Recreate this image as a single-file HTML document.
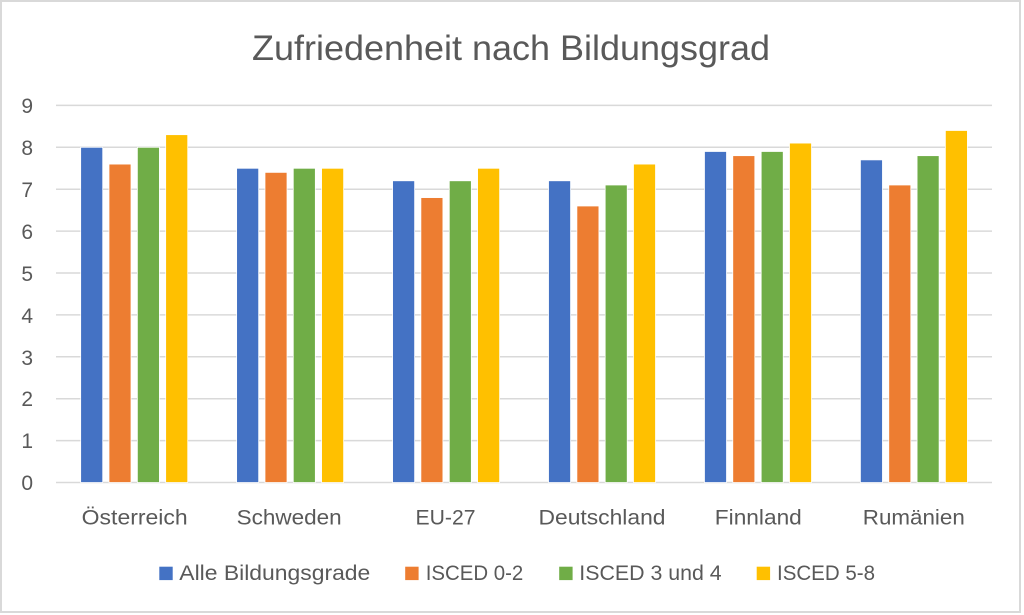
<!DOCTYPE html>
<html><head><meta charset="utf-8"><style>
html,body{margin:0;padding:0;background:#fff;}
svg{display:block;}
text{font-family:"Liberation Sans",sans-serif;fill:#595959;}
</style></head><body>
<svg width="1024" height="615" viewBox="0 0 1024 615" xmlns="http://www.w3.org/2000/svg">
<rect x="0" y="0" width="1024" height="615" fill="#fff"/>
<rect x="1" y="1" width="1019" height="611" fill="#fff" stroke="#d9d9d9" stroke-width="2"/>
<text x="511" y="60" font-size="35" text-anchor="middle" textLength="518" lengthAdjust="spacingAndGlyphs">Zufriedenheit nach Bildungsgrad</text>
<g stroke="#d9d9d9" stroke-width="1.5">
<line x1="56" x2="992" y1="105.4" y2="105.4"/>
<line x1="56" x2="992" y1="147.3" y2="147.3"/>
<line x1="56" x2="992" y1="189.2" y2="189.2"/>
<line x1="56" x2="992" y1="231.1" y2="231.1"/>
<line x1="56" x2="992" y1="273.0" y2="273.0"/>
<line x1="56" x2="992" y1="314.9" y2="314.9"/>
<line x1="56" x2="992" y1="356.8" y2="356.8"/>
<line x1="56" x2="992" y1="398.7" y2="398.7"/>
<line x1="56" x2="992" y1="440.6" y2="440.6"/>
<line x1="56" x2="992" y1="482.5" y2="482.5"/>
</g>
<g font-size="21" text-anchor="end">
<text x="33" y="113">9</text>
<text x="33" y="155">8</text>
<text x="33" y="197">7</text>
<text x="33" y="239">6</text>
<text x="33" y="281">5</text>
<text x="33" y="323">4</text>
<text x="33" y="365">3</text>
<text x="33" y="406">2</text>
<text x="33" y="448">1</text>
<text x="33" y="490">0</text>
</g>
<g stroke="#fff" stroke-width="0.75">
<!-- Österreich -->
<rect x="80.7" y="147.3" width="22" height="335.2" fill="#4472C4"/>
<rect x="109.0" y="164.1" width="22" height="318.4" fill="#ED7D31"/>
<rect x="137.4" y="147.3" width="22" height="335.2" fill="#70AD47"/>
<rect x="165.7" y="134.7" width="22" height="347.8" fill="#FFC000"/>
<!-- Schweden -->
<rect x="236.65" y="168.3" width="22" height="314.2" fill="#4472C4"/>
<rect x="265.0" y="172.4" width="22" height="310.1" fill="#ED7D31"/>
<rect x="293.3" y="168.3" width="22" height="314.2" fill="#70AD47"/>
<rect x="321.6" y="168.3" width="22" height="314.2" fill="#FFC000"/>
<!-- EU-27 -->
<rect x="392.6" y="180.8" width="22" height="301.7" fill="#4472C4"/>
<rect x="420.9" y="197.6" width="22" height="284.9" fill="#ED7D31"/>
<rect x="449.3" y="180.8" width="22" height="301.7" fill="#70AD47"/>
<rect x="477.6" y="168.3" width="22" height="314.2" fill="#FFC000"/>
<!-- Deutschland -->
<rect x="548.55" y="180.8" width="22" height="301.7" fill="#4472C4"/>
<rect x="576.9" y="206.0" width="22" height="276.5" fill="#ED7D31"/>
<rect x="605.2" y="185.0" width="22" height="297.5" fill="#70AD47"/>
<rect x="633.5" y="164.1" width="22" height="318.4" fill="#FFC000"/>
<!-- Finnland -->
<rect x="704.5" y="151.5" width="22" height="331.0" fill="#4472C4"/>
<rect x="732.8" y="155.7" width="22" height="326.8" fill="#ED7D31"/>
<rect x="761.2" y="151.5" width="22" height="331.0" fill="#70AD47"/>
<rect x="789.5" y="143.1" width="22" height="339.4" fill="#FFC000"/>
<!-- Rumänien -->
<rect x="860.45" y="159.9" width="22" height="322.6" fill="#4472C4"/>
<rect x="888.8" y="185.0" width="22" height="297.5" fill="#ED7D31"/>
<rect x="917.1" y="155.7" width="22" height="326.8" fill="#70AD47"/>
<rect x="945.4" y="130.5" width="22" height="352.0" fill="#FFC000"/>
</g>
<g font-size="21" text-anchor="middle">
<text x="134.7" y="524.5" textLength="106" lengthAdjust="spacingAndGlyphs">Österreich</text>
<text x="289.2" y="524.5" textLength="105" lengthAdjust="spacingAndGlyphs">Schweden</text>
<text x="445.5" y="524.5" textLength="60" lengthAdjust="spacingAndGlyphs">EU-27</text>
<text x="602" y="524.5" textLength="127" lengthAdjust="spacingAndGlyphs">Deutschland</text>
<text x="758.3" y="524.5" textLength="87" lengthAdjust="spacingAndGlyphs">Finnland</text>
<text x="913.8" y="524.5" textLength="102" lengthAdjust="spacingAndGlyphs">Rumänien</text>
</g>
<rect x="159.3" y="566.7" width="13.4" height="13.4" fill="#4472C4"/>
<rect x="405.2" y="566.7" width="13.4" height="13.4" fill="#ED7D31"/>
<rect x="559.2" y="566.7" width="13.4" height="13.4" fill="#70AD47"/>
<rect x="756.7" y="566.7" width="13.4" height="13.4" fill="#FFC000"/>
<g font-size="21">
<text x="179.3" y="580" textLength="191" lengthAdjust="spacingAndGlyphs">Alle Bildungsgrade</text>
<text x="425.7" y="580" textLength="97.6" lengthAdjust="spacingAndGlyphs">ISCED 0-2</text>
<text x="579.3" y="580" textLength="142.4" lengthAdjust="spacingAndGlyphs">ISCED 3 und 4</text>
<text x="777" y="580" textLength="98" lengthAdjust="spacingAndGlyphs">ISCED 5-8</text>
</g>
</svg>
</body></html>
